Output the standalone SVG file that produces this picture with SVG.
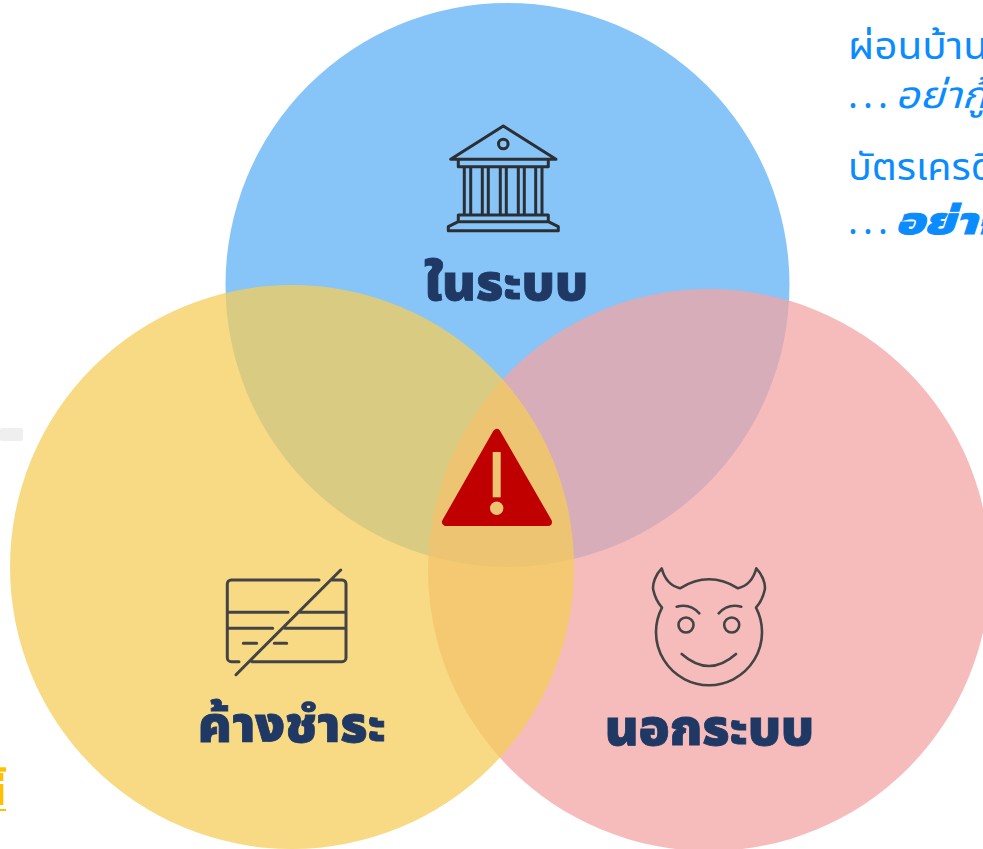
<svg xmlns="http://www.w3.org/2000/svg" width="983" height="849" viewBox="0 0 983 849">
<style>
.lbl{font-family:"Noto Sans","Noto Sans Thai","Noto Sans CJK SC",sans-serif;font-weight:900;font-size:50px;fill:#1f3864;stroke:#1f3864;stroke-width:.8}
.note{font-family:"Noto Sans","Noto Sans Thai","Noto Sans CJK SC",sans-serif;font-size:37px;fill:#0a8cff}
.ital{font-style:italic}
.ico{fill:none;stroke:#2b2f33;stroke-width:3;stroke-linejoin:round}
.ico2{fill:none;stroke:#444;stroke-width:3;stroke-linecap:round;stroke-linejoin:round}
.thin{stroke-width:2.6}
</style>
<rect width="983" height="849" fill="#fff"/>
<g id="fragments">
<rect x="0" y="428" width="23" height="13" rx="2" fill="#efefef"/>
<g fill="#ffc000"><rect x="0" y="767.3" width="6" height="4.4"/><rect x="0" y="773" width="3.3" height="8"/><rect x="0" y="784" width="3.3" height="21"/><rect x="0" y="809" width="6" height="2"/></g>
</g>
<g id="circles">
<circle id="c-blue" cx="507.5" cy="285" r="282" fill="#87c4f8"/>
<circle id="c-pink" cx="709" cy="570" r="281" fill="#f3a6a6" fill-opacity=".75"/>
<circle id="c-yellow" cx="292" cy="567" r="282" fill="#f4cd5a" fill-opacity=".75"/>
</g>
<g id="node-in">
<path class="ico" d="M503.3 126L450.7 159.3H556ZM458.3 159.3H548.3V166.7H458.3ZM464.3 166.7V215M470.7 166.7V215M482.3 166.7V215M488.3 166.7V215M500.3 166.7V215M506.3 166.7V215M518.3 166.7V215M524.3 166.7V215M535.7 166.7V215M542 166.7V215M458.3 215H548.3V221.7H458.3ZM458.3 221.7L448.3 226.7V230.7H558.3V226.7L548.3 221.7Z"/>
<circle class="ico" cx="503.3" cy="144" r="4.8"/>
<text class="lbl" x="424" y="300" textLength="164" lengthAdjust="spacingAndGlyphs">ในระบบ</text>
</g>
<g id="node-overdue">
<path class="ico2" d="M319 580H231.3a4 4 0 0 0-4 4V657.7a4 4 0 0 0 4 4H239M252 661.7H342a4 4 0 0 0 4-4V584a4 4 0 0 0-4-4H331.7M227.3 612.3H288M300 612.3H346M227.3 628.3H272.7M285 628.3H346M243.3 643.3H256.7M274.3 643.3H286.7M236 674.7L340.7 570"/>
<text class="lbl" x="198" y="741.7" textLength="188" lengthAdjust="spacingAndGlyphs">ค้างชำระ</text>
</g>
<g id="node-out">
<path class="ico2 thin" d="M680 588.3Q709 570.3 738 588.3Q752 585 756.3 568.3C762 574 766 584 764.7 590C763 598 760 603 756 607.7A53 53 0 1 1 662 607.7C658 603 655 598 653.3 590C652 584 656 574 661.7 568.3Q666 585 680 588.3ZM676.7 606.7Q690 603 699.3 613.3M718.7 613.3Q728 603 741.3 606.7M681.7 654Q709 678 736 654"/>
<circle class="ico2 thin" cx="686" cy="625" r="7.5"/><circle class="ico2 thin" cx="731.7" cy="625" r="7.5"/>
<text class="lbl" x="605" y="745" textLength="209" lengthAdjust="spacingAndGlyphs">นอกระบบ</text>
</g>
<g id="node-warning">
<path d="M496.7 433L446 522H548Z" fill="#c00000" stroke="#c00000" stroke-width="8" stroke-linejoin="round"/>
<rect x="492.7" y="452" width="8" height="45.3" fill="#ecc472"/><circle cx="496.7" cy="508.3" r="6.7" fill="#ecc472"/>
</g>
<g id="notes">
<text class="note" x="848" y="59" textLength="140" lengthAdjust="spacingAndGlyphs">ผ่อนบ้าน</text>
<text class="note" x="848" y="108" textLength="40">. . .</text>
<text class="note ital" x="895" y="108" textLength="92" lengthAdjust="spacingAndGlyphs">อย่ากู้</text>
<text class="note" x="848" y="180" textLength="172" lengthAdjust="spacingAndGlyphs">บัตรเครดิต</text>
<text class="note" x="848" y="234" textLength="40">. . .</text>
<text class="note ital" x="895" y="234" font-weight="900" font-size="44" stroke="#0a8cff" stroke-width="1" textLength="162" lengthAdjust="spacingAndGlyphs">อย่าจ่าย</text>
</g>
<g id="connectors"/>
</svg>
